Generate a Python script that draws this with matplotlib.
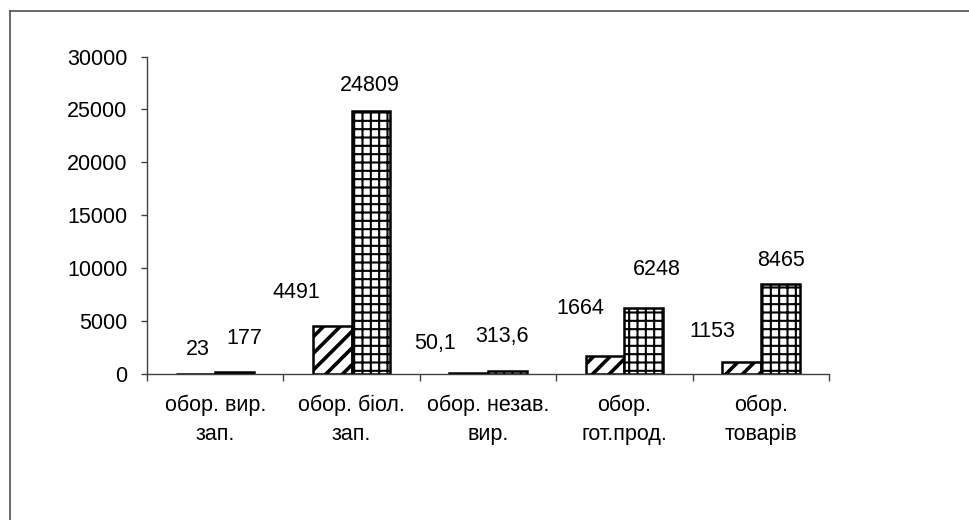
import matplotlib.pyplot as plt
import numpy as np
from matplotlib.lines import Line2D

plt.rcParams['font.family'] = ['Liberation Sans', 'DejaVu Sans']

# категорії оборотності та значення двох рядів
categories = ['обор. вир.\nзап.', 'обор. біол.\nзап.', 'обор. незав.\nвир.',
              'обор.\nгот.прод.', 'обор.\nтоварів']
series_a = [23, 4491, 50.1, 1664, 1153]
series_b = [177, 24809, 313.6, 6248, 8465]
labels_a = ['23', '4491', '50,1', '1664', '1153']
labels_b = ['177', '24809', '313,6', '6248', '8465']
yticks = [0, 5000, 10000, 15000, 20000, 25000, 30000]

# зсуви підписів відносно верху стовпчика (у пікселях)
offs_a = [(2, 24), (-36, 34), (-34, 30), (-25, 48), (-29, 30)]
offs_b = [(10, 34), (-1, 26), (-5, 34), (13, 38), (1, 24)]

fig = plt.figure(figsize=(9.69, 5.2), dpi=100)
ax = fig.add_axes([0.1517, 0.2808, 0.7038, 0.6105])

x = np.arange(len(categories))
w = 0.285
bars_a = ax.bar(x - w / 2, series_a, w, color='white', edgecolor='black',
                linewidth=1.8, hatch='//')
bars_b = ax.bar(x + w / 2, series_b, w, color='white', edgecolor='black',
                linewidth=1.8, hatch='++')
for b in bars_a:
    if hasattr(b, 'set_hatch_linewidth'):
        b.set_hatch_linewidth(2.6)
for b in bars_b:
    if hasattr(b, 'set_hatch_linewidth'):
        b.set_hatch_linewidth(1.5)

px = 72 / fig.dpi
for bars, labs, offs in ((bars_a, labels_a, offs_a), (bars_b, labels_b, offs_b)):
    for b, lab, (dx, dy) in zip(bars, labs, offs):
        ax.annotate(lab, (b.get_x() + b.get_width() / 2, b.get_height()),
                    xytext=(dx * px, dy * px), textcoords='offset points',
                    ha='center', va='center', fontsize=15.5)

ax.set_xlim(-0.5, len(categories) - 0.5)
ax.set_ylim(0, 30000)
ax.set_yticks(yticks)
ax.set_yticklabels([str(t) for t in yticks])
ax.set_xticks(x)
ax.set_xticklabels(categories, fontsize=15.5, linespacing=1.5)
ax.set_xticks(np.arange(-0.5, len(categories)), minor=True)
ax.tick_params(axis='x', which='major', length=0, pad=15)
ax.tick_params(axis='x', which='minor', length=5, width=1, color='#404040',
               direction='out')
ax.tick_params(axis='y', length=4, width=1, color='#404040', pad=10,
               labelsize=15.5)

for s in ('top', 'right'):
    ax.spines[s].set_visible(False)
for s in ('left', 'bottom'):
    ax.spines[s].set_color('#404040')
    ax.spines[s].set_linewidth(1)

# рамка області діаграми
fig.add_artist(Line2D([10 / 969, 1], [1 - 11 / 520, 1 - 11 / 520],
                      transform=fig.transFigure, color='#505050', lw=1.2))
fig.add_artist(Line2D([10 / 969, 10 / 969], [0, 1 - 11 / 520],
                      transform=fig.transFigure, color='#505050', lw=1.2))

fig.savefig('out.png', dpi=100)
